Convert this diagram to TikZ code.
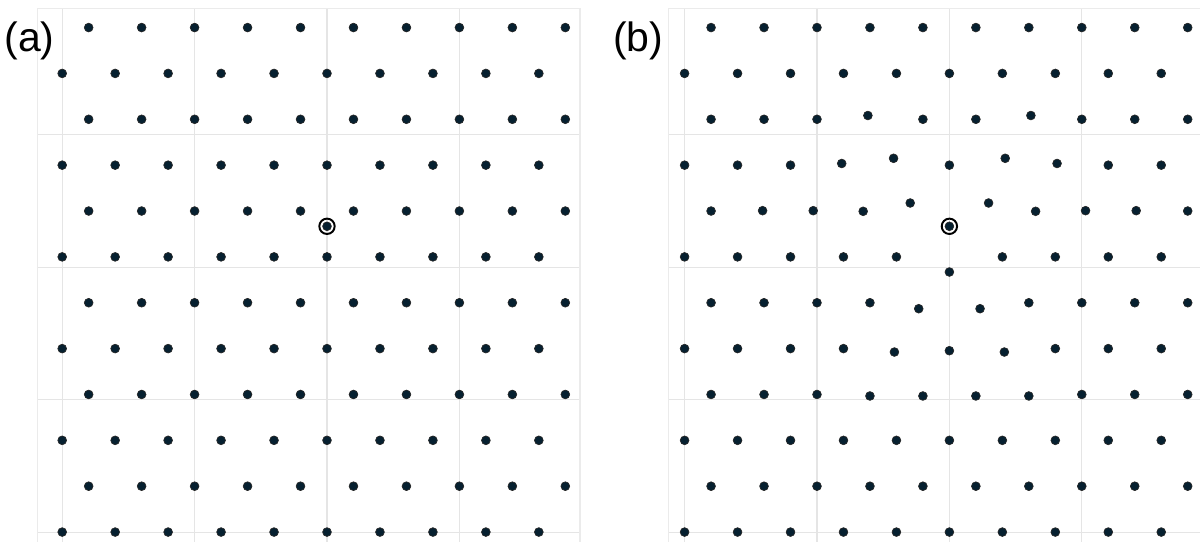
\documentclass[tikz,border=0pt]{standalone}
\usepackage{fontspec}
\setmainfont{Liberation Sans}
\usepackage{tikz}
\usepackage{xcolor}

\definecolor{atomfill}{RGB}{6,32,48}

\begin{document}
\begin{tikzpicture}[
    atom/.style={fill=atomfill, draw=black!85, line width=0.35pt},
    ring/.style={draw=black, line width=1.05pt},
    gridline/.style={draw=black!10, line width=0.55pt},
    frameline/.style={draw=black!8, line width=0.55pt},
    panel/.style={font=\fontsize{22}{26}\selectfont, inner sep=0pt, anchor=base west}
]
\useasboundingbox (-6.1745,-5.961) rectangle (16.484,4.273);

% (a) perfect lattice with an interstitial
\foreach \gx in {-5,-2.5,0,2.5}
    \draw[gridline] (\gx,4.116) -- (\gx,-5.961);
\foreach \gy in {-5.7735,-3.2735,-0.7735,1.7265}
    \draw[gridline] (-5.463,\gy) -- (4.777,\gy);
\draw[frameline] (-5.463,-5.961) -- (-5.463,4.116) -- (4.777,4.116) -- (4.777,-5.961);

\foreach \r in {0,...,11} {
    \pgfmathsetmacro{\yy}{(4.3333-\r)*0.8660}
    \pgfmathsetmacro{\dx}{mod(\r+1,2)*0.5}
    \foreach \k in {-5,...,4}
        \filldraw[atom] (\k+\dx,\yy) circle (0.083);
}
\filldraw[atom] (0,0) circle (0.083);
\draw[ring] (0,0) circle (0.145);

\node[panel] (labela) at (-6.099,3.297) {(a)};

% (b) relaxed lattice around the interstitial
\begin{scope}[shift={(11.752,0)}]
\foreach \gx in {-5,-2.5,0,2.5}
    \draw[gridline] (\gx,4.116) -- (\gx,-5.961);
\foreach \gy in {-5.7735,-3.2735,-0.7735,1.7265}
    \draw[gridline] (-5.295,\gy) -- (4.732,\gy);
\draw[frameline] (-5.295,-5.961) -- (-5.295,4.116) -- (4.732,4.116);

\foreach \yy/\xs in {
    3.7527/{-4.5,-3.5,-2.5,-1.5,-0.5,0.5,1.5,2.5,3.5,4.5},
    2.8867/{-5,-4,-3,-2,-1,0,1,2,3,4},
    2.0207/{-4.5,-3.5,-2.5,-0.5,0.5,2.5,3.5,4.5},
    1.1547/{-5,-4,-3,0,3,4},
    0.2887/{-4.5,4.5},
    -0.5774/{-5,-4,-3,-2,-1,1,2,3,4},
    -1.4434/{-4.5,-3.5,-2.5,-1.5,1.5,2.5,3.5,4.5},
    -2.3094/{-5,-4,-3,-2,2,3,4},
    -3.1754/{-4.5,-3.5,-2.5,2.5,3.5,4.5},
    -4.0415/{-5,-4,-3,-2,-1,0,1,2,3,4},
    -4.9075/{-4.5,-3.5,-2.5,-1.5,-0.5,0.5,1.5,2.5,3.5,4.5},
    -5.7735/{-5,-4,-3,-2,-1,0,1,2,3,4}} {
    \foreach \xx in \xs
        \filldraw[atom] (\xx,\yy) circle (0.083);
}
% displaced neighbours
\foreach \xx/\yy in {-1.539/2.092, 1.539/2.092,
    -2.033/1.186, -1.054/1.284, 1.054/1.284, 2.033/1.186,
    -3.527/0.295, -2.571/0.295, -1.628/0.283, -0.740/0.440,
    0.740/0.440, 1.628/0.283, 2.571/0.295, 3.527/0.295,
    0/-0.863, -0.579/-1.556, 0.579/-1.556,
    -1.038/-2.374, 0/-2.349, 1.038/-2.374,
    -1.5/-3.204, -0.5/-3.204, 0.5/-3.204, 1.5/-3.204}
    \filldraw[atom] (\xx,\yy) circle (0.083);
\filldraw[atom] (0,0) circle (0.083);
\draw[ring] (0,0) circle (0.145);

\node[panel] (labelb) at (-6.352,3.297) {(b)};
\end{scope}
\end{tikzpicture}
\end{document}
